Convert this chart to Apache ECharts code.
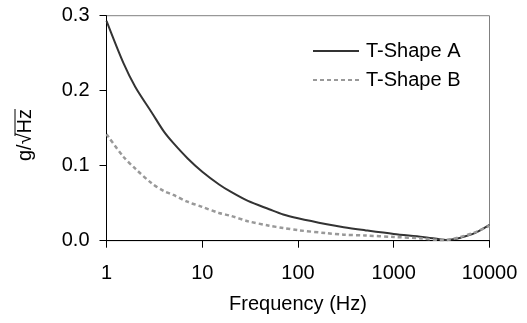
<!DOCTYPE html>
<html>
<head>
<meta charset="utf-8">
<script src="https://cdn.jsdelivr.net/npm/echarts@6/dist/echarts.min.js"></script>
<style>
html,body{margin:0;padding:0;background:#fff;}
#chart{width:527px;height:323px;}
</style>
</head>
<body>
<div id="chart"></div>
<script>
var frequencies = [1, 1.5, 2, 3, 4, 5, 7, 10, 15, 20, 30, 50, 70, 100, 200, 300, 500, 1000, 2000, 3000, 3500, 4000, 5000, 7000, 10000];
var shapeA = [0.293, 0.237, 0.205, 0.170, 0.145, 0.130, 0.110, 0.092, 0.075, 0.065, 0.053, 0.042, 0.035, 0.030, 0.022, 0.018, 0.014, 0.009, 0.005, 0.002, 0.001, 0.0015, 0.004, 0.010, 0.021];
var shapeB = [0.142, 0.112, 0.096, 0.076, 0.066, 0.061, 0.052, 0.045, 0.037, 0.033, 0.026, 0.020, 0.017, 0.014, 0.010, 0.008, 0.007, 0.005, 0.003, 0.001, 0.001, 0.002, 0.005, 0.011, 0.020];
var seriesNames = ['T-Shape A', 'T-Shape B'];
var xTicks = [1, 10, 100, 1000, 10000];
var yTicks = [0.0, 0.1, 0.2, 0.3];
var xName = 'Frequency (Hz)';
var yName = 'g/√Hz';

function pairs(vals) { return frequencies.map(function (f, i) { return [f, vals[i]]; }); }

var FONT = 'Liberation Sans';
var FS = 20;
var chart = echarts.init(document.getElementById('chart'), null, {renderer: 'canvas'});
chart.setOption({
  animation: false,
  backgroundColor: '#fff',
  textStyle: {fontFamily: FONT},
  grid: {left: 106.5, right: 37.5, top: 15.7, bottom: 82.3, show: true, borderColor: '#808080', borderWidth: 1,
         backgroundColor: 'transparent', containLabel: false, outerBoundsMode: 'none'},
  legend: {
    orient: 'vertical', left: 312, top: 41, padding: 0, itemWidth: 46, itemHeight: 20, itemGap: 9,
    itemStyle: {opacity: 0},
    textStyle: {fontFamily: FONT, fontSize: FS, color: '#000', padding: [0, 0, 0, 2]},
    data: seriesNames
  },
  xAxis: {
    type: 'log', logBase: 10, min: xTicks[0], max: xTicks[xTicks.length - 1],
    name: xName, nameLocation: 'middle', nameGap: 54,
    nameTextStyle: {fontFamily: FONT, fontSize: FS, color: '#000'},
    axisLine: {lineStyle: {color: '#000', width: 1}},
    axisTick: {show: true, length: 7, lineStyle: {color: '#000'}},
    minorTick: {show: false},
    axisLabel: {fontFamily: FONT, fontSize: FS, color: '#000', margin: 23, formatter: function (v) { return String(Math.round(v)); }},
    splitLine: {show: false}
  },
  yAxis: {
    type: 'value', min: yTicks[0], max: yTicks[yTicks.length - 1], interval: 0.1,
    axisLine: {show: true, lineStyle: {color: '#000', width: 1}},
    axisTick: {show: true, length: 7, lineStyle: {color: '#000'}},
    axisLabel: {fontFamily: FONT, fontSize: FS, color: '#000', margin: 17, formatter: function (v) { return v.toFixed(1); }},
    splitLine: {show: false}
  },
  graphic: [{
    type: 'group', x: 25, y: 135, rotation: Math.PI / 2,
    children: [
      {type: 'text', x: 0, y: 0, style: {text: yName, font: FS + 'px "' + FONT + '"', fill: '#000', align: 'center', verticalAlign: 'middle'}},
      {type: 'line', shape: {x1: -1, y1: -10, x2: 26, y2: -10}, style: {stroke: '#000', lineWidth: 1}}
    ]
  }],
  series: [
    {name: seriesNames[0], type: 'line', data: pairs(shapeA), smooth: 0.3, symbol: 'none',
     lineStyle: {color: '#333333', width: 2}, itemStyle: {color: '#333333'}},
    {name: seriesNames[1], type: 'line', data: pairs(shapeB), smooth: 0.3, symbol: 'none',
     lineStyle: {color: '#999999', width: 2.5, type: [4, 3]}, itemStyle: {color: '#999999'}}
  ]
});
</script>
</body>
</html>
